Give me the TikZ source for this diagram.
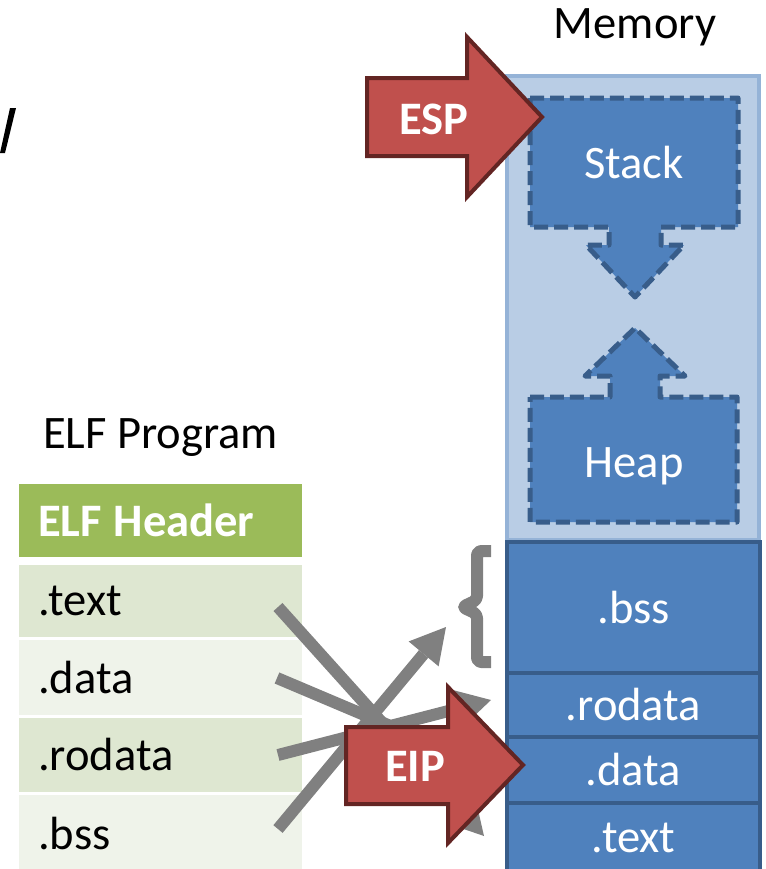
\documentclass[tikz,border=0pt]{standalone}
\usepackage{fontspec}
\setmainfont{Carlito}
\usetikzlibrary{arrows.meta,positioning}
\definecolor{hdrgreen}{HTML}{9BBB59}
\definecolor{rowdark}{HTML}{DEE7D1}
\definecolor{rowlight}{HTML}{EFF3EA}
\definecolor{memlight}{HTML}{B9CDE5}
\definecolor{memedge}{HTML}{95B3D7}
\definecolor{secfill}{HTML}{4F81BD}
\definecolor{secedge}{HTML}{385D8A}
\definecolor{regfill}{HTML}{C0504D}
\definecolor{regedge}{HTML}{632523}
\definecolor{linkgray}{HTML}{808080}
\newcommand{\slidefont}{\fontsize{26.5}{30}\selectfont}

\begin{document}
\begin{tikzpicture}[x=0.02cm, y=-0.02cm,
  lbl/.style={font=\slidefont, inner sep=0pt},
  elfrow/.style={minimum width=5.66cm, inner xsep=0.38cm, inner ysep=0pt,
                 text width=4.9cm, align=left, font=\slidefont},
  sect/.style={draw=secedge, fill=secfill, line width=0.08cm, minimum width=5.06cm,
               inner sep=0pt, text=white, font=\slidefont},
  growbox/.style={draw=secedge, fill=secfill, line width=0.1cm,
               dash pattern=on 0.28cm off 0.12cm, line join=round},
  reg/.style={draw=regedge, fill=regfill, line width=0.08cm, line join=miter},
  regtxt/.style={text=white, font=\slidefont\bfseries, inner sep=0pt},
  link/.style={-{Triangle[length=0.7cm, width=0.78cm, line width=0pt]},
               draw=linkgray, line width=0.24cm}
]
  \useasboundingbox (0,0) rectangle (765,869);
  % cut-off glyph at the left edge
  \fill (10,108) -- (16,108) -- (5,153) -- (0,153) -- cycle;

  % Memory column
  \node[lbl] (memlbl) at (635,27) {Memory};
  \node[draw=memedge, fill=memlight, line width=0.07cm, minimum width=5.04cm,
        minimum height=9.28cm, inner sep=0pt] (mem) at (633,308) {};
  \draw[growbox] (530,98) -- (738,98) -- (738,227) -- (661,227) -- (661,245)
    -- (684,245) -- (635,297) -- (586,245) -- (609,245) -- (609,227)
    -- (530,227) -- cycle;
  \node[lbl, text=white] (stack) at (634,163) {Stack};
  \draw[growbox] (530,397) -- (610,397) -- (610,376) -- (585,376) -- (635,328)
    -- (685,376) -- (660,376) -- (660,397) -- (737,397) -- (737,522)
    -- (530,522) -- cycle;
  \node[lbl, text=white] (heap) at (634,466) {Heap};
  \node[sect, minimum height=2.62cm] (mbss)    at (633.5,607.5) {.bss};
  \node[sect, minimum height=1.28cm] (mrodata) at (633.5,705)   {\raisebox{-4pt}{.rodata}};
  \node[sect, minimum height=1.32cm] (mdata)   at (633.5,770)   {.data};
  \node[sect, minimum height=1.40cm] (mtext)   at (633.5,838)   {.text};

  % ELF column
  \node[lbl] (elflbl) at (160.5,438) {ELF Program};
  \node[elfrow, fill=hdrgreen, text=white, font=\slidefont\bfseries,
        minimum height=1.46cm] (ehdr) at (160.5,520.5) {ELF\hspace{-2pt} Header};
  \node[elfrow, fill=rowdark,  minimum height=1.44cm] (etext)   at (160.5,601)   {.text};
  \node[elfrow, fill=rowlight, minimum height=1.50cm] (edata)   at (160.5,677.5) {.data};
  \node[elfrow, fill=rowdark,  minimum height=1.48cm] (erodata) at (160.5,755)   {.rodata};
  \node[elfrow, fill=rowlight, minimum height=1.54cm] (ebss)    at (160.5,833.5) {.bss};

  % section links
  \coordinate (ftext)   at (278,607);
  \coordinate (fdata)   at (277,678);
  \coordinate (frodata) at (278,755);
  \coordinate (fbss)    at (278,829);
  \coordinate (ttext)   at (484,836);
  \coordinate (tdata)   at (492,769);
  \coordinate (trodata) at (491,700);
  \coordinate (tbss)    at (446,627);
  \draw[link] (ftext) -- (ttext);
  \draw[link] (fdata) -- (tdata);
  \draw[link] (frodata) -- (trodata);
  \draw[link] (fbss) -- (tbss);
  \draw[linkgray, line width=0.24cm, line join=round, rounded corners=0.08cm]
    (491,551) -- (477,551) -- (477,600) -- (462,607) -- (477,614) -- (477,662) -- (491,662);

  % registers
  \draw[reg] (367,78) -- (467,78) -- (467,37) -- (542,117) -- (467,197)
    -- (467,156) -- (367,156) -- cycle;
  \node[regtxt] (esp) at (434,119) {ESP};
  \draw[reg] (346,727) -- (448,727) -- (448,687) -- (523,765) -- (448,843)
    -- (448,804) -- (346,804) -- cycle;
  \node[regtxt] (eip) at (415,766) {EIP};
\end{tikzpicture}
\end{document}
